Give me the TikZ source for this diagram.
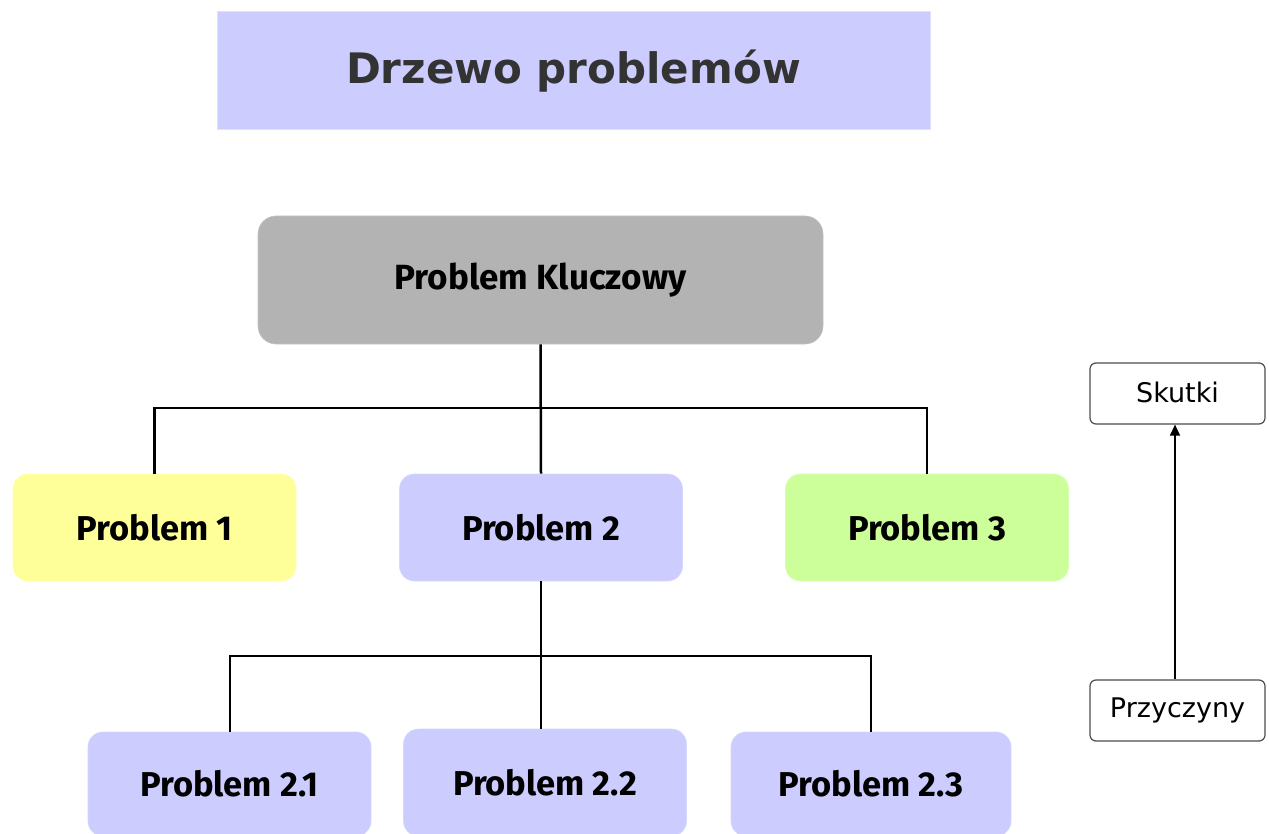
\documentclass[tikz,border=0pt]{standalone}
\usepackage{fontspec}
\usetikzlibrary{arrows.meta}
\newfontfamily\titlefont{DejaVu Sans}
\newfontfamily\labfont{Fira Sans}
\newfontfamily\legfont{DejaVu Sans}
\definecolor{lav}{HTML}{CCCCFF}
\definecolor{keyg}{HTML}{B3B3B3}
\definecolor{yel}{HTML}{FFFF99}
\definecolor{grn}{HTML}{CCFF99}
\definecolor{ttxt}{HTML}{333333}
\tikzset{
  probbox/.style={rectangle, rounded corners=15pt, inner sep=0pt,
    minimum width=283pt, minimum height=107pt, line width=0.6pt,
    font=\labfont\bfseries\fontsize{34.5}{40}\selectfont, text=black},
  legbox/.style={rectangle, rounded corners=6pt, inner sep=0pt, draw=black!70,
    line width=1.2pt, fill=white, minimum width=175pt, minimum height=61pt,
    font=\legfont\fontsize{27}{30}\selectfont},
  conn/.style={line width=2.5pt, black},
}
\begin{document}
\begin{tikzpicture}[x=1pt,y=-1pt]
\useasboundingbox (0,0) rectangle (1269,834);
\fill[white] (0,0) rectangle (1269,834);
% title
\node[rectangle, fill=lav, draw=lav!60, line width=1pt, minimum width=713pt, minimum height=118pt,
  inner sep=0pt, font=\titlefont\bfseries\fontsize{42}{48}\selectfont, text=ttxt]
  (title) at (573.5,71) {Drzewo problemów};
% key problem
\node[probbox, fill=keyg, draw=keyg!80, minimum width=565pt, minimum height=128pt, rounded corners=18pt,
  font=\labfont\bfseries\fontsize{35}{40}\selectfont] (key) at (540.5,280) {Problem Kluczowy};
% level 1
\node[probbox, fill=yel, draw=yel!80] (p1) at (154.5,527.5) {Problem 1};
\node[probbox, fill=lav, draw=lav!80] (p2) at (541,527.5) {Problem 2};
\node[probbox, fill=grn, draw=grn!80] (p3) at (927,527.5) {Problem 3};
% level 2
\node[probbox, fill=lav, draw=lav!80, minimum height=104pt] (p21) at (229.5,784) {Problem 2.1};
\node[probbox, fill=lav, draw=lav!80, minimum height=107pt] (p22) at (545,782.5) {Problem 2.2};
\node[probbox, fill=lav, draw=lav!80, minimum width=280pt, minimum height=104pt] (p23) at (871,784) {Problem 2.3};
% junctions
\coordinate (j1) at (541,408);
\coordinate (j2) at (541,656);
% connectors
\draw[conn] (key.south) -- (p2.north);
\draw[conn] (p1.north) |- (j1) -| (p3.north);
\draw[conn] (p2.south) -- (j2);
\draw[conn] (p21.north -| 230,0) |- (j2) -| (p23.north);
\draw[conn] (j2) -- (p22.north -| j2);
% legend
\node[legbox] (sk) at (1177.5,393.5) {\raisebox{3pt}{Skutki}};
\node[legbox] (prz) at (1177.5,710.5) {\raisebox{2pt}{Przyczyny}};
\draw[line width=1.4pt, -{Triangle[width=10pt,length=11pt]}] (prz.north -| 1175,0) -- (sk.south -| 1175,0);
\end{tikzpicture}
\end{document}
